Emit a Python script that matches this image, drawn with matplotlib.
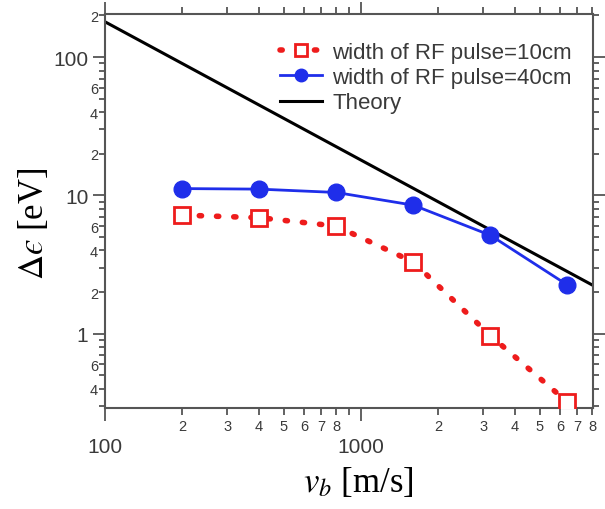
import matplotlib
matplotlib.use("Agg")
import matplotlib.pyplot as plt
from matplotlib.ticker import LogLocator, FuncFormatter
import numpy as np

# beam velocity [m/s]
v_b = [200, 400, 800, 1600, 3200, 6400]
# energy spread [eV]
de_10cm = [7.2, 6.9, 6.0, 3.3, 0.97, 0.32]
de_40cm = [11.2, 11.1, 10.5, 8.5, 5.15, 2.25]
# theory line (end points)
v_theory = [100, 8000]
de_theory = [180, 2.25]

plt.rcParams['mathtext.fontset'] = 'stix'
plt.rcParams['font.family'] = ['Liberation Sans', 'DejaVu Sans']

fig = plt.figure(figsize=(6.05, 5.1), dpi=100)
ax = fig.add_axes([0.1736, 0.198, 0.8064, 0.7726])

ax.plot(v_b, de_10cm, linestyle=(0, (0.4, 2.7)), dash_capstyle='round',
        color='#ee1c1c', lw=4, marker='s', ms=12, mfc='white', mec='#ee1c1c',
        mew=2, label='width of RF pulse=10cm', zorder=3)
ax.plot(v_b, de_40cm, '-', color='#1f2eea', lw=2, marker='o', ms=12,
        label='width of RF pulse=40cm', zorder=3)
ax.plot(v_theory, de_theory, '-', color='black', lw=2.2, label='Theory', zorder=2)

ax.set_xscale('log')
ax.set_yscale('log')
ax.set_xlim(100, 8050)
ax.set_ylim(0.29, 205)

ax.xaxis.set_major_locator(LogLocator(base=10, numticks=10))
ax.xaxis.set_minor_locator(LogLocator(base=10, subs=np.arange(2, 10), numticks=20))
ax.yaxis.set_major_locator(LogLocator(base=10, numticks=10))
ax.yaxis.set_minor_locator(LogLocator(base=10, subs=np.arange(2, 10), numticks=20))


def major_fmt(val, pos):
    return '%g' % val


def digit(val):
    return int(round(val / 10 ** np.floor(np.log10(val) + 1e-9)))


ax.xaxis.set_major_formatter(FuncFormatter(major_fmt))
ax.yaxis.set_major_formatter(FuncFormatter(major_fmt))
ax.xaxis.set_minor_formatter(FuncFormatter(lambda v, p: str(digit(v)) if digit(v) <= 8 else ''))
ax.yaxis.set_minor_formatter(FuncFormatter(lambda v, p: str(digit(v)) if digit(v) in (2, 4, 6) else ''))

tc = '#3a3a3a'
for s in ax.spines.values():
    s.set_color('#555555')
    s.set_linewidth(1.5)

ax.tick_params(which='both', direction='out', top=True, right=True, color='#555555',
               labelcolor=tc, width=1.3)
ax.tick_params(axis='x', which='major', length=9, pad=12, labelsize=15)
ax.tick_params(axis='x', which='minor', length=5, pad=3, labelsize=10.5)
ax.tick_params(axis='y', which='major', length=9, pad=3, labelsize=15)
ax.tick_params(axis='y', which='minor', length=4, pad=1, labelsize=10.5)

ax.set_xlabel(r'$v_b$ [m/s]', fontsize=25, family='Liberation Serif')
ax.set_ylabel('$\\mathit{\\Delta}\u03f5$ [eV]', fontsize=25, family='Liberation Serif')
ax.xaxis.set_label_coords(0.52, -0.145)
ax.yaxis.set_label_coords(-0.11, 0.47)

ax.legend(loc='upper right', bbox_to_anchor=(0.957, 0.93), frameon=False, fontsize=16,
          handlelength=1.9, handletextpad=0.45, labelspacing=0.2, numpoints=1,
          borderpad=0, borderaxespad=0, labelcolor=tc, markerscale=0.75)

fig.savefig('out.png', dpi=100)
